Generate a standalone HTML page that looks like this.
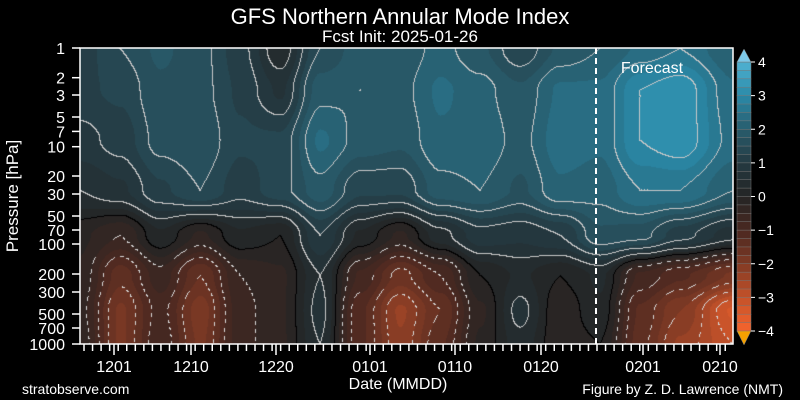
<!DOCTYPE html>
<html><head><style>
html,body{margin:0;padding:0;background:#000;width:800px;height:400px;overflow:hidden}
#c{position:absolute;left:80px;top:48px}
svg{position:absolute;left:0;top:0}
text{font-family:"Liberation Sans",sans-serif;fill:#fff}
</style></head><body>
<canvas id="c" width="653" height="296"></canvas>
<svg id="s" width="800" height="400" xmlns="http://www.w3.org/2000/svg">
<text x="400" y="24" font-size="22" text-anchor="middle">GFS Northern Annular Mode Index</text>
<text x="400" y="42" font-size="17" text-anchor="middle">Fcst Init: 2025-01-26</text>
<text transform="translate(18,196) rotate(-90)" font-size="17" text-anchor="middle">Pressure [hPa]</text>
<text x="398" y="389" font-size="16" text-anchor="middle">Date (MMDD)</text>
<text x="22" y="394" font-size="14">stratobserve.com</text>
<text x="783" y="394" font-size="14" text-anchor="end">Figure by Z. D. Lawrence (NMT)</text>
<text x="652" y="73" font-size="16" text-anchor="middle">Forecast</text>
<line x1="596" y1="48" x2="596" y2="344" stroke="#fff" stroke-width="2" stroke-dasharray="6,4"/>
<rect x="80" y="48" width="653" height="296" fill="none" stroke="#fff" stroke-width="1.5"/>
<g id="ax"></g>
</svg>
<script>
(function(){
var X=[80,120,160,200,240,280,320,360,400,440,480,520,560,600,640,680,733];
var Y=[48,90,140,190,235,275,310,344];
var V=[
[1.1,1.5,1.8,1.6,1.1,0.3,1.5,1.9,1.8,2.1,1.8,1.3,1.8,2.0,2.3,2.5,2.0],
[1.2,1.3,1.7,1.6,1.2,0.7,1.9,2.0,1.9,2.3,2.1,1.8,2.3,2.3,3.0,3.2,2.3],
[0.9,1.1,1.6,1.7,1.3,1.3,2.3,1.9,1.8,2.2,2.2,1.9,2.4,2.3,3.0,3.2,2.4],
[0.5,0.7,1.2,1.5,1.1,1.4,1.9,1.3,1.3,1.9,2.0,1.7,2.2,2.1,2.5,2.5,2.0],
[-0.2,-0.5,0.2,-0.3,0.2,0.0,1.0,0.2,-0.3,0.4,0.9,0.8,1.0,1.7,1.6,1.1,0.6],
[-0.3,-1.4,-0.6,-1.5,-0.5,-0.3,0.5,-0.8,-1.6,-1.0,0.0,0.3,0.0,0.3,-0.8,-1.2,-1.8],
[-0.4,-1.8,-0.9,-1.9,-0.6,-0.3,0.6,-1.2,-2.3,-1.5,-0.3,0.6,-0.2,0.2,-1.3,-2.0,-3.3],
[-0.3,-1.8,-0.8,-1.8,-0.6,-0.3,0.5,-1.2,-2.2,-1.3,-0.2,0.4,-0.2,0.0,-1.4,-2.3,-3.0]];
var stops=[[-4,[245,100,45]],[-3,[196,82,42]],[-2,[128,58,36]],[-1,[74,40,33]],[0,[36,36,36]],[1,[36,58,66]],[2,[40,92,108]],[3,[42,138,168]],[4,[80,178,210]]];
function col(v){v=Math.max(-4,Math.min(4,v));for(var i=0;i<stops.length-1;i++){var a=stops[i],b=stops[i+1];if(v<=b[0]){var t=(v-a[0])/(b[0]-a[0]);return a[1].map(function(c,k){return Math.round(c+(b[1][k]-c)*t)})}}return stops[8][1]}
function idx(A,v){for(var i=0;i<A.length-2;i++)if(v<A[i+1])return i;return A.length-2}
function f(x,y){var i=idx(X,x),j=idx(Y,y);var tx=(x-X[i])/(X[i+1]-X[i]),ty=(y-Y[j])/(Y[j+1]-Y[j]);
tx=tx*tx*(3-2*tx);ty=ty*ty*(3-2*ty);
return (V[j][i]*(1-tx)+V[j][i+1]*tx)*(1-ty)+(V[j+1][i]*(1-tx)+V[j+1][i+1]*tx)*ty}
var W=653,H=296;var F=[];
for(var y=0;y<H;y++)for(var x=0;x<W;x++)F.push(f(x+80,y+48));
var c=document.getElementById('c').getContext('2d');var im=c.createImageData(W,H);
for(var y=0;y<H;y++)for(var x=0;x<W;x++){var v=F[y*W+x];var q=Math.floor(v*4)/4+0.125;var k=col(q);
var L=Math.floor(v*2);var line=false;
if(x<W-1&&Math.floor(F[y*W+x+1]*2)!=L)line=true;
if(y<H-1&&Math.floor(F[(y+1)*W+x]*2)!=L)line=true;
if(line){var lv=L+ (x<W-1&&Math.floor(F[y*W+x+1]*2)>L||y<H-1&&Math.floor(F[(y+1)*W+x]*2)>L?1:0);
if(lv==0)k=[0,0,0];else if(lv>0)k=[200,200,200];else if(((x+y)>>2)%2==0)k=[215,215,215];}
var p=(y*W+x)*4;im.data[p]=k[0];im.data[p+1]=k[1];im.data[p+2]=k[2];im.data[p+3]=255}
c.putImageData(im,0,0);
var s='';
var P=[[1,48],[2,77.7],[3,95],[5,117],[7,131.4],[10,146.7],[20,176],[30,194],[50,216],[70,230],[100,244],[200,274],[300,292],[500,314],[700,328],[1000,344]];
P.forEach(function(p){s+='<line x1="72" y1="'+p[1]+'" x2="80" y2="'+p[1]+'" stroke="#fff" stroke-width="1.5"/><text x="65" y="'+(p[1]+6)+'" font-size="16" text-anchor="end">'+p[0]+'</text>'});
for(var d=0;d<77;d++){var x=80+4+d*8.55;if(x>733)break;s+='<line x1="'+x+'" y1="344" x2="'+x+'" y2="351" stroke="#fff" stroke-width="1.5"/>'}
[['1201',114],['1210',191],['1220',276],['0101',370],['0110',455],['0120',541],['0201',643],['0210',720]].forEach(function(t){s+='<line x1="'+t[1]+'" y1="344" x2="'+t[1]+'" y2="355" stroke="#fff" stroke-width="1.5"/><text x="'+t[1]+'" y="372" font-size="16" text-anchor="middle">'+t[0]+'</text>'});
var cbT=62,cbB=331,h=(cbB-cbT)/32;
for(var i=0;i<32;i++){var v=4-(i+0.5)*0.25;var k=col(v);s+='<rect x="737" y="'+(cbT+i*h)+'" width="14" height="'+(h+0.3)+'" fill="rgb('+k.join(',')+')" stroke="#777" stroke-width="0.5"/>'}
s+='<polygon points="737,62 751,62 744,49" fill="#7cc8e8" stroke="#777" stroke-width="0.5"/><polygon points="737,331 751,331 744,345" fill="#f5a000" stroke="#777" stroke-width="0.5"/>';
for(var v=4;v>=-4;v--){var yy=cbT+(4-v)*(cbB-cbT)/8;s+='<line x1="751" y1="'+yy+'" x2="755" y2="'+yy+'" stroke="#fff"/><text x="758" y="'+(yy+5)+'" font-size="14">'+(v<0?'\u2212'+(-v):v)+'</text>'}
document.getElementById('ax').innerHTML=s;
})();
</script>
</body></html>
